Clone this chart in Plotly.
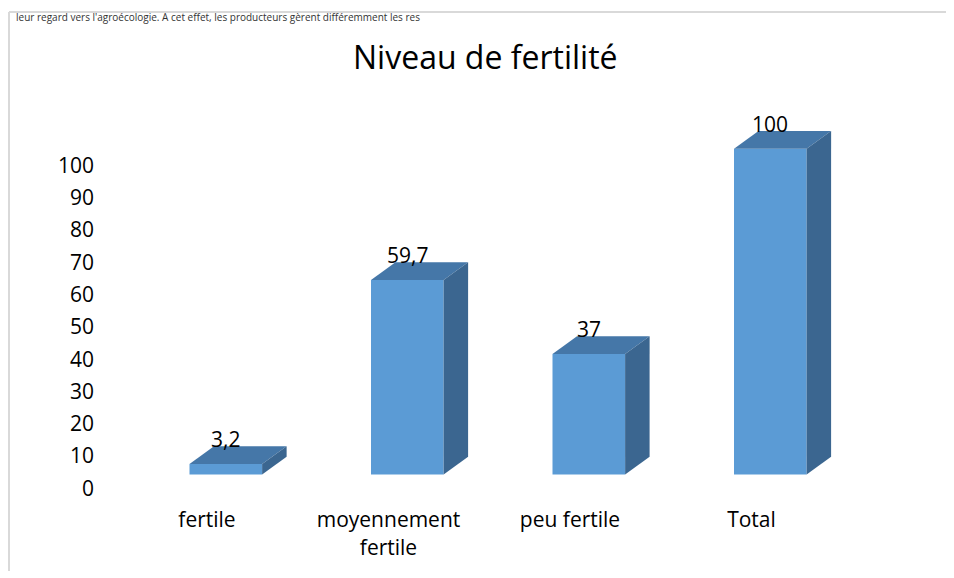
import plotly.graph_objects as go

# ---- data ----
categories = ["fertile", "moyennement<br>fertile", "peu fertile", "Total"]
values = [3.2, 59.7, 37, 100]
value_labels = ["3,2", "59,7", "37", "100"]
y_ticks = [0, 10, 20, 30, 40, 50, 60, 70, 80, 90, 100]
title_text = "Niveau de fertilité"
doc_text = "leur regard vers l'agroécologie. A cet effet, les producteurs gèrent différemment les res"

# ---- style / geometry ----
OFF = 8                                   # page body margin
W, H = 954 - OFF, 578 - OFF
FONT = "Open Sans"
FRONT = "#5b9bd5"
TOP = "#4577a8"
SIDE = "#3b6690"
L, R, T, B = 100, 940, 20, 500          # plot domain in screen pixels
CAT_STEP = 181.5                         # px per category
LABEL_X0 = 207                           # px of first category label
BAR_X0 = 225.8                           # px of first bar centre
LAB_Y0, LAB_SCALE = 496, 3.28            # tick label axis: px of 0, px per unit
BAR_Y0, BAR_SCALE = 482, 3.31            # bar axis: px of 0, px per unit
BAR_W = 0.4
DX_PX, DY_PX = 24.5, 18                  # 3D depth in pixels

dx = DX_PX / CAT_STEP
dy = DY_PX / BAR_SCALE

def px_x(p):
    return (p - OFF) / W

def px_y(p):
    return 1 - (p - OFF) / H

xdom = [px_x(L), px_x(R)]
ydom = [px_y(B), px_y(T)]

fig = go.Figure()

x_idx = list(range(len(categories)))

# front faces
fig.add_trace(go.Bar(
    x=x_idx, y=values, width=BAR_W, marker=dict(color=FRONT, line=dict(width=0)),
    xaxis="x2", yaxis="y2", hoverinfo="skip", showlegend=False,
))

# top and side faces
for i, v in zip(x_idx, values):
    xl, xr = i - BAR_W / 2, i + BAR_W / 2
    fig.add_trace(go.Scatter(
        x=[xl, xl + dx, xr + dx, xr, xl], y=[v, v + dy, v + dy, v, v],
        fill="toself", fillcolor=TOP, mode="lines", line=dict(width=0, color=TOP),
        xaxis="x2", yaxis="y2", hoverinfo="skip", showlegend=False,
    ))
    fig.add_trace(go.Scatter(
        x=[xr, xr + dx, xr + dx, xr, xr], y=[0, dy, v + dy, v, 0],
        fill="toself", fillcolor=SIDE, mode="lines", line=dict(width=0, color=SIDE),
        xaxis="x2", yaxis="y2", hoverinfo="skip", showlegend=False,
    ))

# invisible trace for label axes
fig.add_trace(go.Scatter(x=x_idx, y=[0] * len(x_idx), mode="markers",
                         marker=dict(opacity=0), hoverinfo="skip", showlegend=False))

annotations = []
for i, v, t in zip(x_idx, values, value_labels):
    annotations.append(dict(
        x=i, y=v + dy, xref="x2", yref="y2", text=t, showarrow=False,
        yanchor="middle", yshift=7, font=dict(family=FONT, size=21, color="#000000"),
    ))

annotations.append(dict(
    x=px_x(486), y=px_y(57), xref="paper", yref="paper", text=title_text, showarrow=False,
    xanchor="center", yanchor="middle", font=dict(family=FONT, size=32, color="#000000"),
))
annotations.append(dict(
    x=px_x(14), y=px_y(17), xref="paper", yref="paper", text=doc_text, showarrow=False,
    xanchor="left", yanchor="middle", font=dict(family=FONT, size=10, color="#333333"),
))

fig.update_layout(
    width=W, height=H,
    margin=dict(l=0, r=0, t=0, b=0, pad=0),
    paper_bgcolor="white", plot_bgcolor="white",
    showlegend=False,
    xaxis=dict(
        domain=xdom,
        range=[(L - LABEL_X0) / CAT_STEP, (R - LABEL_X0) / CAT_STEP],
        tickvals=x_idx, ticktext=categories, showgrid=False, zeroline=False,
        showline=False, ticks="", tickfont=dict(family=FONT, size=21, color="#000000"),
        ticklabelstandoff=13, fixedrange=True,
    ),
    yaxis=dict(
        domain=ydom,
        range=[(LAB_Y0 - B) / LAB_SCALE, (LAB_Y0 - T) / LAB_SCALE],
        tickvals=y_ticks, showgrid=False, zeroline=False, showline=False, ticks="",
        tickfont=dict(family=FONT, size=21, color="#000000"), ticklabelstandoff=5,
        fixedrange=True,
    ),
    xaxis2=dict(
        overlaying="x",
        range=[(L - BAR_X0) / CAT_STEP, (R - BAR_X0) / CAT_STEP],
        visible=False, fixedrange=True,
    ),
    yaxis2=dict(
        overlaying="y",
        range=[(BAR_Y0 - B) / BAR_SCALE, (BAR_Y0 - T) / BAR_SCALE],
        visible=False, fixedrange=True,
    ),
    annotations=annotations,
    shapes=[
        dict(type="line", xref="paper", yref="paper", x0=px_x(9), x1=px_x(9), y0=px_y(12), y1=px_y(580),
             line=dict(color="#d9d9d9", width=2)),
        dict(type="line", xref="paper", yref="paper", x0=px_x(9), x1=px_x(960), y0=px_y(12), y1=px_y(12),
             line=dict(color="#d9d9d9", width=2)),
    ],
)

fig.write_html("out.html")
